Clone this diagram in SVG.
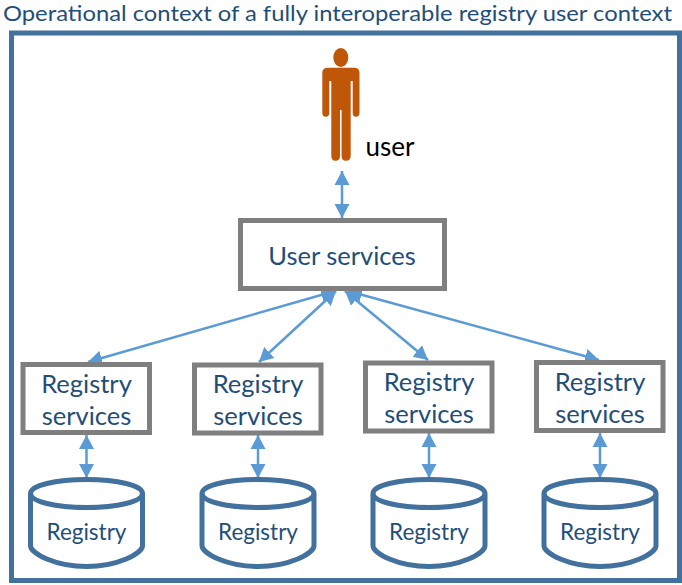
<svg xmlns="http://www.w3.org/2000/svg" width="682" height="585" viewBox="0 0 682 585">
<style>
text{font-family:"Lato","Liberation Sans",sans-serif;fill:#1f4e79;text-anchor:middle}
.box{fill:#fff;stroke:#7f7f7f;stroke-width:5}
.db{fill:#fff;stroke:#41719c;stroke-width:5}
.c{stroke:#5b9bd5;stroke-width:2.500;fill:none;marker-start:url(#h);marker-end:url(#h)}
.t{font-size:25.500px}
.r{font-size:22.500px}
</style>
<defs>
<marker id="h" markerUnits="userSpaceOnUse" markerWidth="15" markerHeight="16" refX="14" refY="8" orient="auto-start-reverse" viewBox="0 0 15 16"><path d="M0 0.500L14 8L0 15.500Z" fill="#5b9bd5"/></marker>
<path id="cyl" class="db" d="M-56 -59V-7C-56 1 -31 14 0 14S56 1 56 -7V-59C56 -67 31 -73 0 -73S-56 -67 -56 -59C-56 -51 -31 -45 0 -45S56 -51 56 -59"/>
</defs>
<rect width="682" height="585" fill="#fff"/>
<text x="337.500" y="21" style="font-size:21px" textLength="669" lengthAdjust="spacingAndGlyphs">Operational context of a fully interoperable registry user context</text>
<rect id="frame" x="11.500" y="33" width="668" height="547.500" fill="none" stroke="#41719c" stroke-width="5"/>
<g id="connectors">
<path class="c" d="M342 171V218"/>
<path class="c" d="M335 291L88 362"/>
<path class="c" d="M336 291L259 362"/>
<path class="c" d="M345 291L428 360"/>
<path class="c" d="M348 291L599 360"/>
<path class="c" d="M86.500 435V478"/>
<path class="c" d="M258 435V478"/>
<path class="c" d="M429 433V478"/>
<path class="c" d="M600 433V478"/>
</g>
<g id="user">
<path fill="#c05608" d="M333.300 57.500A7.500 9.500 0 1 1 348.300 57.500A7.500 9.500 0 1 1 333.300 57.500ZM328 67.700H354Q359.500 67.700 359.500 73V113Q359.500 116.700 356 116.700Q352.700 116.700 352.700 113V81H350.700V156Q350.700 160.700 345.700 160.700Q341.600 160.700 341.600 156V110H340V156Q340 160.700 335.500 160.700Q331.300 160.700 331.300 156V81H329.300V113Q329.300 116.700 325.800 116.700Q322.300 116.700 322.300 113V73Q322.300 67.700 328 67.700Z"/>
<text x="390" y="156" style="font-size:26px;fill:#000">user</text>
</g>
<g id="user-services">
<rect class="box" x="240.500" y="220.500" width="204" height="68"/>
<text class="t" x="342" y="265">User services</text>
</g>
<g id="rs1"><rect class="box" x="23" y="364.500" width="126.500" height="68"/><text class="t" x="86.500" y="393">Registry</text><text class="t" x="86.500" y="425">services</text></g>
<g id="rs2"><rect class="box" x="194.500" y="365" width="126.500" height="68"/><text class="t" x="258" y="393">Registry</text><text class="t" x="258" y="425">services</text></g>
<g id="rs3"><rect class="box" x="365.500" y="363" width="126.500" height="68"/><text class="t" x="429" y="391">Registry</text><text class="t" x="429" y="423">services</text></g>
<g id="rs4"><rect class="box" x="536.500" y="362.500" width="126.500" height="68"/><text class="t" x="600" y="391">Registry</text><text class="t" x="600" y="423">services</text></g>
<g id="db1"><use href="#cyl" x="86.500" y="552.500"/><text class="r" x="86.500" y="540">Registry</text></g>
<g id="db2"><use href="#cyl" x="258" y="552.500"/><text class="r" x="258" y="540">Registry</text></g>
<g id="db3"><use href="#cyl" x="429" y="552.500"/><text class="r" x="429" y="540">Registry</text></g>
<g id="db4"><use href="#cyl" x="600" y="552.500"/><text class="r" x="600" y="540">Registry</text></g>
</svg>
